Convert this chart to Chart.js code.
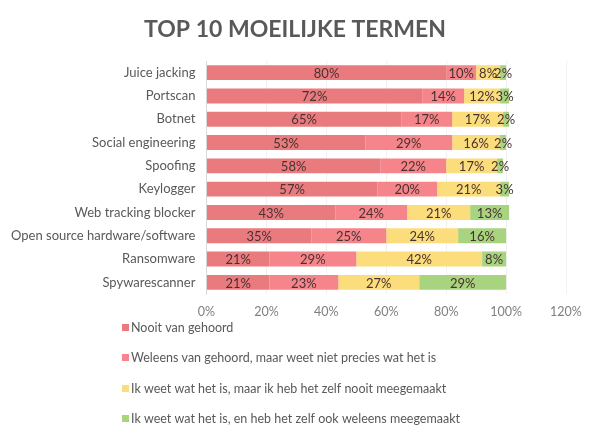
<!DOCTYPE html>
<html>
<head>
<meta charset="utf-8">
<script src="https://cdn.jsdelivr.net/npm/chart.js@4/dist/chart.umd.min.js"></script>
<style>
html,body{margin:0;padding:0;background:#fff;}
#wrap{position:relative;width:594px;height:438px;}
</style>
</head>
<body>
<div id="wrap"><canvas id="c" width="594" height="438"></canvas></div>
<script>
const categories = ["Juice jacking","Portscan","Botnet","Social engineering","Spoofing","Keylogger","Web tracking blocker","Open source hardware/software","Ransomware","Spywarescanner"];
const seriesNames = ["Nooit van gehoord","Weleens van gehoord, maar weet niet precies wat het is","Ik weet wat het is, maar ik heb het zelf nooit meegemaakt","Ik weet wat het is, en heb het zelf ook weleens meegemaakt"];
const nooit = [80,72,65,53,58,57,43,35,21,21];
const weleens = [10,14,17,29,22,20,24,25,29,23];
const weetNooit = [8,12,17,16,17,21,21,24,42,27];
const weetOok = [2,3,2,2,2,3,13,16,8,29];
const xTicks = [0,20,40,60,80,100,120];
const titleText = "TOP 10 MOEILIJKE TERMEN";
const colors = ["#E97B7E","#F5858A","#FBDD7C","#A8D37F"];

const values = [nooit, weleens, weetNooit, weetOok];
const datasets = values.map((v,i)=>({label:seriesNames[i],data:v,backgroundColor:colors[i],borderWidth:0,categoryPercentage:1,barPercentage:0.64}));

const FONT = 'Lato, "Open Sans", sans-serif';

const labelPlugin = {
  id:'segLabels',
  afterDatasetsDraw(chart){
    const ctx = chart.ctx;
    ctx.save();
    ctx.font = '13px ' + FONT;
    ctx.fillStyle = '#473232';
    ctx.textAlign = 'center';
    ctx.textBaseline = 'middle';
    chart.data.datasets.forEach((ds,di)=>{
      const meta = chart.getDatasetMeta(di);
      meta.data.forEach((el,i)=>{
        const cx = (el.x + el.base)/2;
        ctx.fillText(ds.data[i]+'%', cx, el.y+1);
      });
    });
    ctx.restore();
  }
};

const titleAndLegendPlugin = {
  id:'titleLegend',
  afterDraw(chart){
    const ctx = chart.ctx;
    ctx.save();
    ctx.font = 'bold 23px ' + FONT;
    ctx.fillStyle = '#595959';
    ctx.textAlign = 'center';
    ctx.textBaseline = 'middle';
    ctx.fillText(titleText, 295, 30);
    ctx.font = '12.5px ' + FONT;
    const ys = [328,358,389,419];
    chart.data.datasets.forEach((ds,i)=>{
      ctx.fillStyle = ds.backgroundColor;
      ctx.fillRect(122, ys[i]-4, 7, 7);
      ctx.fillStyle = '#595959';
      ctx.textAlign = 'left';
      ctx.fillText(ds.label, 131, ys[i]);
    });
    ctx.restore();
  }
};

new Chart(document.getElementById('c'),{
  type:'bar',
  data:{labels:categories,datasets},
  options:{
    responsive:false,
    animation:false,
    indexAxis:'y',
    layout:{padding:{top:61,right:28,bottom:109,left:0}},
    plugins:{
      legend:{display:false},
      tooltip:{enabled:false},
      title:{display:false}
    },
    scales:{
      x:{stacked:true,min:0,max:120,
        afterBuildTicks(axis){axis.ticks = xTicks.map(v=>({value:v}));},
        ticks:{color:'#7f7f7f',font:{family:FONT,size:12.5},padding:10,callback:v=>v+'%'},
        grid:{color:'#f1f1f1',drawTicks:false},border:{display:false}},
      y:{stacked:true,
        ticks:{color:'#595959',font:{family:FONT,size:13},padding:11},
        grid:{display:false,drawTicks:false},border:{color:'#d9d9d9'}}
    }
  },
  plugins:[labelPlugin,titleAndLegendPlugin]
});
</script>
</body>
</html>
